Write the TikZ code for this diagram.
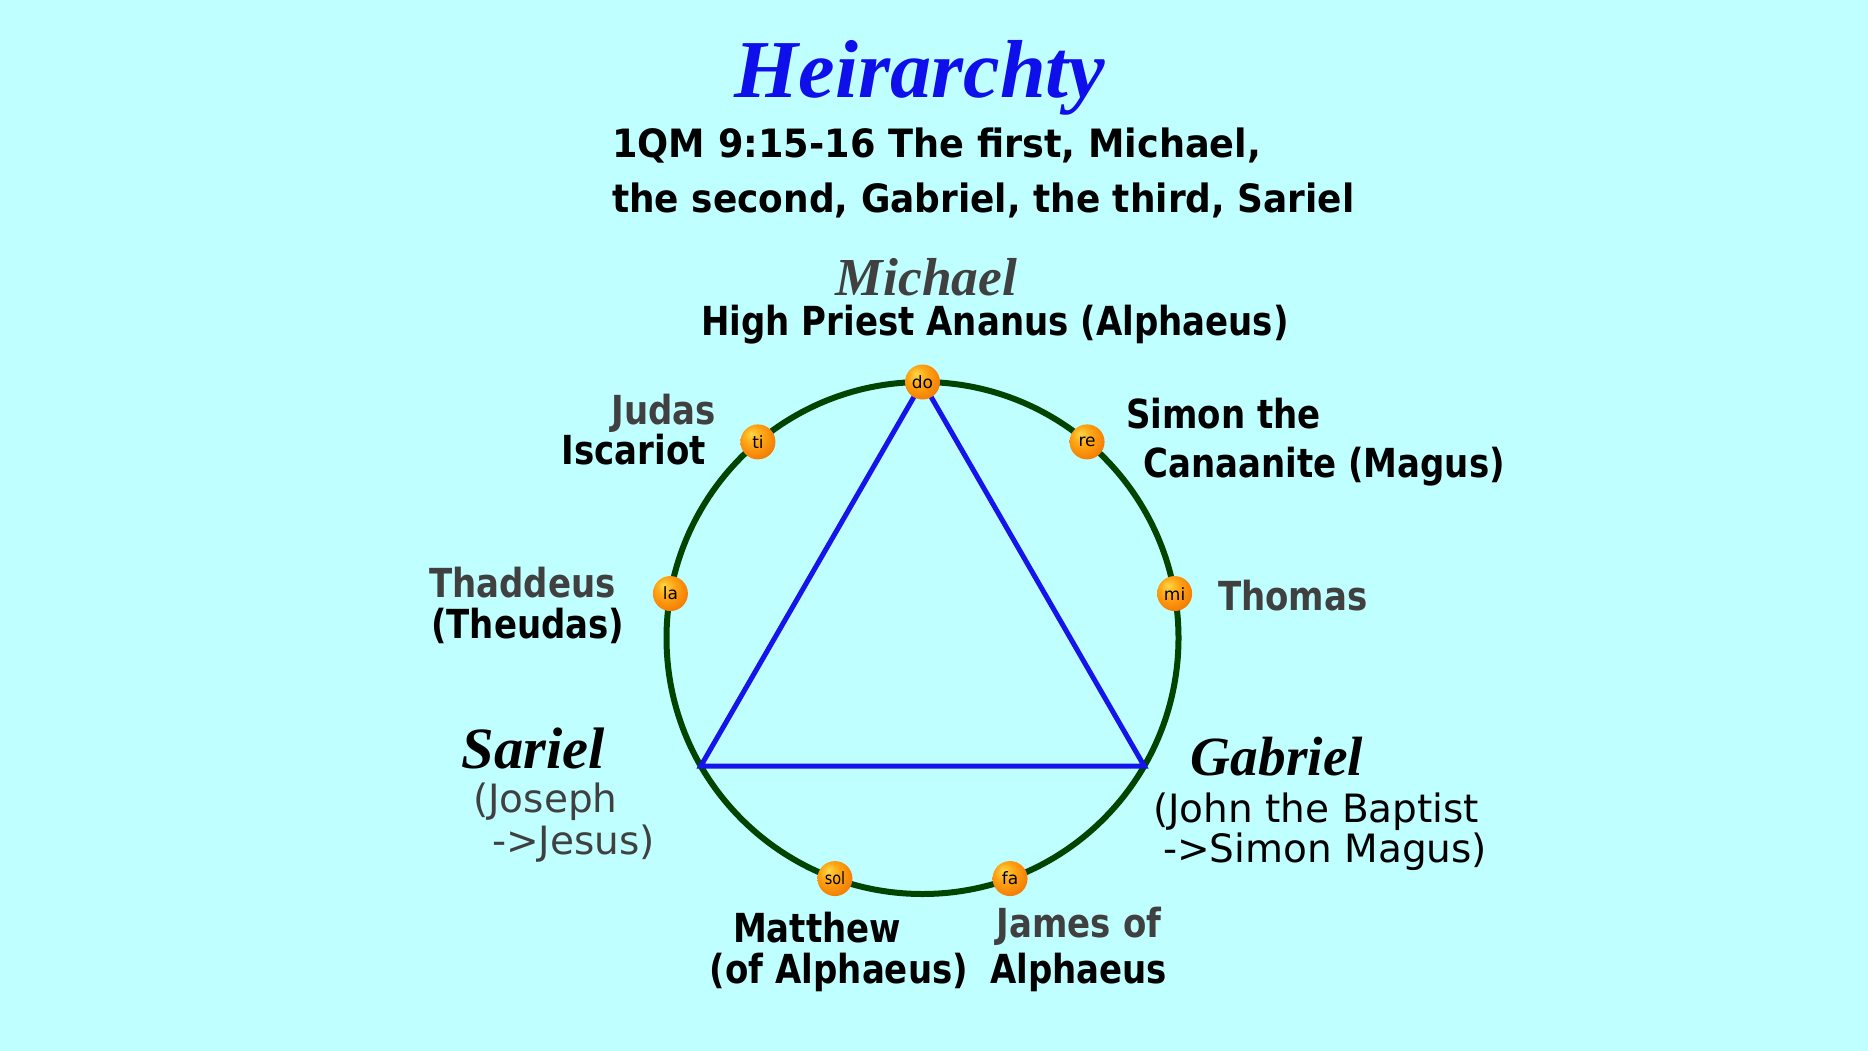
\documentclass[tikz,border=0pt]{standalone}
\usepackage{graphicx}
\usepackage{fontspec}
\setmainfont{DejaVu Sans}
\newfontfamily\hdrtxt{DejaVu Sans}[FakeStretch=0.94]
\newfontfamily\boldtxt{DejaVu Sans}[FakeStretch=0.85]
\newfontfamily\regtxt{DejaVu Sans}
\newfontfamily\uncfallback{Liberation Serif}
\newcommand\uncfont{\uncfallback\bfseries\itshape}
\definecolor{bgc}{RGB}{192,255,255}
\definecolor{ringc}{RGB}{0,68,0}
\definecolor{tric}{RGB}{20,20,235}
\definecolor{titlec}{RGB}{15,15,235}
\definecolor{tgray}{RGB}{64,64,64}
\definecolor{orbA}{RGB}{255,215,70}
\definecolor{orbB}{RGB}{255,165,20}
\definecolor{orbC}{RGB}{240,110,0}
\definecolor{orbD}{RGB}{185,60,0}
\pgfdeclareradialshading{orb}{\pgfpoint{-10bp}{12bp}}{color(0bp)=(orbA); color(14bp)=(orbB); color(36bp)=(orbC); color(46bp)=(orbC); color(50bp)=(orbD)}
\newcommand\hdrfont{\hdrtxt\bfseries\fontsize{39}{47}\selectfont}
\newcommand\labfont{\boldtxt\bfseries\fontsize{40}{48}\selectfont}
\newcommand\regfont{\regtxt\fontsize{39}{47}\selectfont}
\newcommand\ballfont{\regtxt\fontsize{17}{17}\selectfont}
\tikzset{
  hdr/.style={inner sep=0pt, font=\hdrfont, text=black},
  lab/.style={inner sep=0pt, font=\labfont, text=black},
  glab/.style={lab, text=tgray},
  rlab/.style={inner sep=0pt, font=\regfont, text=black},
  grlab/.style={rlab, text=tgray},
  unc/.style={inner sep=0pt, anchor=base, text=black},
  ring/.style={draw=ringc, line width=6pt},
  tri/.style={draw=tric, line width=5pt, line join=miter},
  ball/.style={circle, minimum size=35pt, inner sep=0pt, shading=orb, font=\ballfont, text=black},
}
\begin{document}
\begin{tikzpicture}[x=1pt,y=-1pt]
\fill[bgc] (0,0) rectangle (1868,1051);
\useasboundingbox (0,0) rectangle (1868,1051);
% title
\node[unc, text=titlec] (title) at (920,98) {\resizebox{370pt}{!}{\uncfont Heirarchty}};
\node[hdr, anchor=base west] (l1) at (612,158) {1QM 9:15-16 The first, Michael,};
\node[hdr, anchor=base west] (l2) at (612,213) {\scalebox{0.98}[1]{the second, Gabriel, the third, Sariel}};
% circle and triangle
\begin{scope}[shift={(922.5,638)}, y=1pt]
  \coordinate (O) at (0,0);
  \coordinate (T) at (90:256);
  \coordinate (L) at (210:256);
  \coordinate (R) at (330:256);
  \draw[ring] (O) circle[radius=256];
  \draw[tri] (T) -- (L) -- (R) -- cycle;
  \node[ball] (do) at (90:256) {do};
  \node[ball] (re) at (50:256) {re};
  \node[ball] (mi) at (10:256) {mi};
  \node[ball] (fa) at (-70:256) {fa};
  \node[ball] (sol) at (-110:256) {\scalebox{0.85}[1]{sol}};
  \node[ball] (la) at (170:256) {la};
  \node[ball] (ti) at (130:256) {ti};
\end{scope}
% top
\node[unc, text=tgray] (michael) at (926.5,295) {\resizebox{181pt}{!}{\uncfont Michael}};
\node[lab, anchor=base] (hp) at (995,335) {High Priest Ananus (Alphaeus)};
% left
\node[glab, anchor=base east, text depth=0pt] (judas) at (716,424) {Judas};
\node[lab, anchor=base east, text height=29pt] (isc) at (706,464) {Iscariot};
\node[glab, anchor=base west] (thad) at (429,597) {Thaddeus};
\node[lab, anchor=base west] (theu) at (431,638) {(Theudas)};
\node[unc] (sariel) at (533.5,768) {\resizebox{143pt}{!}{\uncfont Sariel}};
\node[grlab, anchor=base west] (jos) at (473,812) {(Joseph};
\node[grlab, anchor=base west] (jes) at (492,854) {->Jesus)};
% right
\node[lab, anchor=base west] (simon) at (1126,428) {Simon the};
\node[lab, anchor=base west] (can) at (1143,477) {Canaanite (Magus)};
\node[glab, anchor=base west] (thomas) at (1218,610) {Thomas};
\node[unc] (gabriel) at (1277,775) {\resizebox{172pt}{!}{\uncfont Gabriel}};
\node[rlab, anchor=base west] (john) at (1153,822) {(John the Baptist};
\node[rlab, anchor=base west] (sm) at (1163,862) {->Simon Magus)};
% bottom
\node[lab, anchor=base] (matt) at (817,942) {Matthew};
\node[lab, anchor=base] (ofa) at (839,983) {(of Alphaeus)};
\node[glab, anchor=base] (james) at (1079,937) {James of};
\node[lab, anchor=base] (alph) at (1078.5,983) {Alphaeus};
\end{tikzpicture}
\end{document}
